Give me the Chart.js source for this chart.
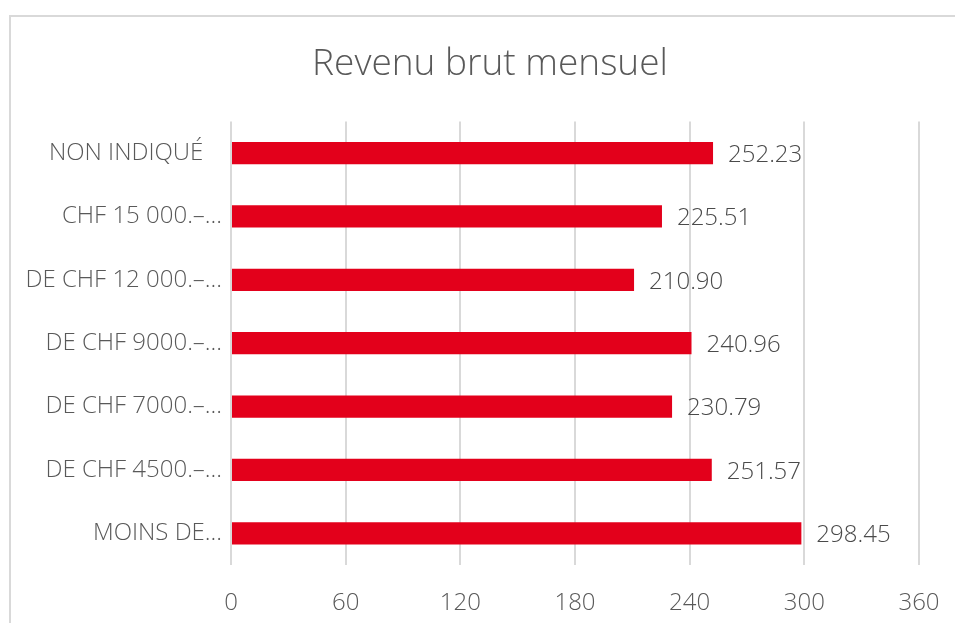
<!DOCTYPE html>
<html>
<head>
<meta charset="utf-8">
<script src="https://cdn.jsdelivr.net/npm/chart.js@4"></script>
<style>
    html, body { margin: 0; padding: 0; background: #fff; overflow: hidden; }
    #wrap { position: relative; width: 955px; height: 623px; overflow: hidden; }
    #frame { position: absolute; left: 9px; top: 15px; width: 1000px; height: 700px; border: 2px solid #d9d9d9; box-sizing: border-box; }
    #revenu-chart { position: absolute; left: 0; top: 0; }
</style>
</head>
<body>
<div id="wrap">
    <div id="frame"></div>
    <canvas id="revenu-chart" width="980" height="623"></canvas>
</div>
<script>
const categories = [
    'NON INDIQUÉ   ',
    'CHF 15 000.–...',
    'DE CHF 12 000.–...',
    'DE CHF 9000.–...',
    'DE CHF 7000.–...',
    'DE CHF 4500.–...',
    'MOINS DE...'
];
const values = [252.23, 225.51, 210.90, 240.96, 230.79, 251.57, 298.45];
const xTicks = [0, 60, 120, 180, 240, 300, 360];

const fontFamily = "'Open Sans', 'Segoe UI', sans-serif";

// draws the value next to each bar
const valueLabels = {
    id: 'valueLabels',
    afterDatasetsDraw(chart) {
        const ctx = chart.ctx;
        const meta = chart.getDatasetMeta(0);
        ctx.save();
        ctx.font = '300 24px ' + fontFamily;
        ctx.fillStyle = '#4a4a4a';
        ctx.textAlign = 'left';
        ctx.textBaseline = 'middle';
        meta.data.forEach(function (bar, i) {
            ctx.fillText(values[i].toFixed(2), bar.x + 15, bar.y + 2);
        });
        ctx.restore();
    }
};

new Chart(document.getElementById('revenu-chart'), {
    type: 'bar',
    data: {
        labels: categories,
        datasets: [{
            data: values,
            backgroundColor: '#e3001b',
            borderWidth: 0,
            barPercentage: 0.7,
            categoryPercentage: 0.5
        }]
    },
    options: {
        indexAxis: 'y',
        responsive: false,
        animation: false,
        layout: {
            padding: { left: 0, right: 0, top: 0, bottom: 10 }
        },
        plugins: {
            legend: { display: false },
            tooltip: { enabled: false },
            title: {
                display: true,
                text: 'Revenu brut mensuel',
                color: '#595959',
                font: { size: 37, weight: '300', family: fontFamily },
                padding: { top: 42, bottom: 35 }
            }
        },
        scales: {
            x: {
                min: 0,
                max: 360,
                afterBuildTicks: function (scale) {
                    scale.ticks = xTicks.map(v => ({ value: v }));
                },
                afterFit: function (scale) { scale.height = 48; },
                grid: { color: '#d9d9d9', lineWidth: 2, drawTicks: false },
                border: { display: false },
                ticks: {
                    color: '#595959',
                    padding: 24,
                    font: { size: 24, weight: '300', family: fontFamily }
                }
            },
            y: {
                grid: { display: false, drawTicks: false },
                border: { display: false },
                afterFit: function (scale) { scale.width = 231; },
                ticks: {
                    color: '#595959',
                    padding: 9,
                    font: { size: 24, weight: '300', family: fontFamily }
                }
            },
            // empty right margin so the title centres like the original
            spacer: {
                type: 'linear',
                position: 'right',
                grid: { display: false, drawTicks: false },
                border: { display: false },
                ticks: { display: false },
                afterFit: function (scale) { scale.width = 61; }
            }
        }
    },
    plugins: [valueLabels]
});
</script>
</body>
</html>
